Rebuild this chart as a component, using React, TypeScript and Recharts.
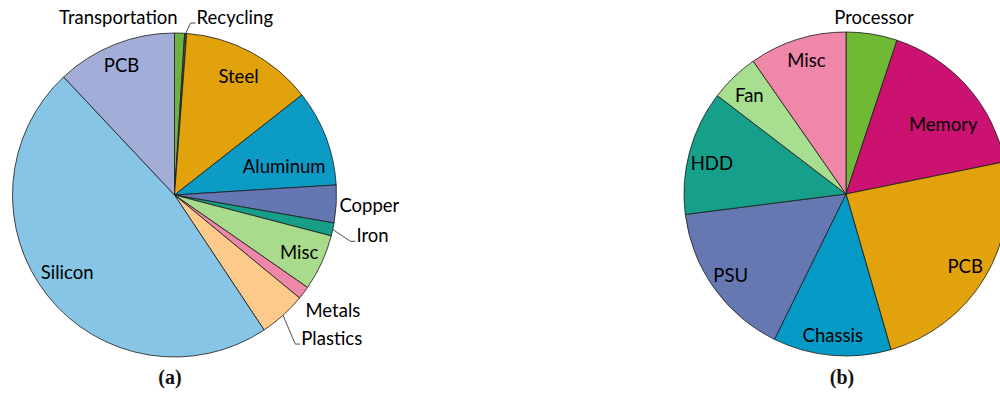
import { PieChart, Pie, Cell } from "recharts";

// (a) material breakdown
const partsA = ["Transportation", "Recycling", "Steel", "Aluminum", "Copper", "Iron", "Misc", "Metals", "Plastics", "Silicon", "PCB"];
const sharesA = [1.0, 0.2, 13.2, 9.6, 3.75, 1.3, 5.6, 1.3, 4.7, 47.3, 12.0];
const colorsA = ["#6db33f", "#4d4d4d", "#e2a20b", "#0c9bc5", "#6577b2", "#169e88", "#a8dc8c", "#ee87a8", "#fdca8c", "#86c5e5", "#a2add8"];

// (b) component breakdown
const partsB = ["Processor", "Memory", "PCB", "Chassis", "PSU", "HDD", "Fan", "Misc"];
const sharesB = [5.1, 16.7, 23.7, 11.75, 15.7, 12.4, 4.9, 9.7];
const colorsB = ["#6fb935", "#cc1271", "#e2a20b", "#059ac5", "#6678b1", "#169f8a", "#a8de90", "#ee87a8"];

const dataA = partsA.map((name, i) => ({ name, value: sharesA[i] }));
const dataB = partsB.map((name, i) => ({ name, value: sharesB[i] }));

// label placement: r = fraction of radius, d = clockwise shift (deg), a = anchor, lead = leader line
type LabelPos = { r: number; d: number; a?: "start" | "middle" | "end"; lead?: boolean };

const labelsA: Record<string, LabelPos> = {
  Transportation: { r: 1.1, d: -0.8, a: "end" },
  Recycling: { r: 1.107, d: 3.1, a: "start", lead: true },
  Steel: { r: 0.833, d: 0.2 },
  Aluminum: { r: 0.7, d: 6.1 },
  Copper: { r: 1.02, d: 0.35, a: "start" },
  Iron: { r: 1.15, d: 0.2, a: "start", lead: true },
  Misc: { r: 0.846, d: -0.2 },
  Metals: { r: 1.077, d: 4.2, a: "start" },
  Plastics: { r: 1.18, d: 0.5, a: "start", lead: true },
  Silicon: { r: 0.815, d: 2.8 },
  PCB: { r: 0.865, d: -0.6 },
};

const labelsB: Record<string, LabelPos> = {
  Processor: { r: 1.105, d: -0.2 },
  Memory: { r: 0.74, d: 5.8 },
  PCB: { r: 0.86, d: 0 },
  Chassis: { r: 0.875, d: 0.3 },
  PSU: { r: 0.87, d: 0.4 },
  HDD: { r: 0.85, d: -2 },
  Fan: { r: 0.855, d: -0.5 },
  Misc: { r: 0.86, d: 1 },
};

const RAD = Math.PI / 180;
const FONT = "Lato, 'Open Sans', sans-serif";

const polar = (cx: number, cy: number, r: number, deg: number) => ({
  x: cx + r * Math.cos(-deg * RAD),
  y: cy + r * Math.sin(-deg * RAD),
});

const makeLabel = (cfg: Record<string, LabelPos>) => (props: any) => {
  const { cx, cy, midAngle, outerRadius } = props;
  const name = props.payload?.name ?? props.name;
  const c = cfg[name];
  if (!c) return null;
  const p = polar(cx, cy, outerRadius * c.r, midAngle - c.d);
  const anchor = c.a ?? "middle";
  let leader = null;
  if (c.lead) {
    const edge = polar(cx, cy, outerRadius, midAngle);
    const ly = p.y + 6;
    leader = (
      <polyline
        points={`${edge.x},${edge.y} ${p.x - 6},${ly} ${p.x - 1},${ly}`}
        fill="none"
        stroke="#222"
        strokeWidth={0.8}
      />
    );
  }
  return (
    <g key={`lbl-${name}`}>
      {leader}
      <text x={p.x} y={p.y} textAnchor={anchor} dominantBaseline="central" fontFamily={FONT} fontSize={18.5} fill="#000">
        {name}
      </text>
    </g>
  );
};

const captionStyle = (left: number) => ({
  position: "absolute" as const,
  left,
  top: 366,
  width: 40,
  textAlign: "center" as const,
  fontFamily: "'Liberation Serif', serif",
  fontWeight: 700,
  fontSize: 20,
  color: "#111",
});

export default function App() {
  return (
    <div style={{ position: "absolute", left: 0, top: 0, width: 1000, height: 395, background: "#fff", overflow: "hidden" }}>
      <PieChart width={1000} height={395} margin={{ top: 0, right: 0, bottom: 0, left: 0 }}>
        <Pie
          data={dataA}
          dataKey="value"
          nameKey="name"
          cx={174.5}
          cy={195}
          outerRadius={162}
          startAngle={90}
          endAngle={-270}
          stroke="#1a1a1a"
          strokeWidth={0.8}
          label={makeLabel(labelsA)}
          labelLine={false}
          isAnimationActive={false}
        >
          {dataA.map((d, i) => (
            <Cell key={d.name} fill={colorsA[i]} />
          ))}
        </Pie>
        <Pie
          data={dataB}
          dataKey="value"
          nameKey="name"
          cx={846}
          cy={194}
          outerRadius={162}
          startAngle={90}
          endAngle={-270}
          stroke="#1a1a1a"
          strokeWidth={0.8}
          label={makeLabel(labelsB)}
          labelLine={false}
          isAnimationActive={false}
        >
          {dataB.map((d, i) => (
            <Cell key={d.name} fill={colorsB[i]} />
          ))}
        </Pie>
      </PieChart>
      <div style={captionStyle(150)}>(a)</div>
      <div style={captionStyle(822)}>(b)</div>
    </div>
  );
}
